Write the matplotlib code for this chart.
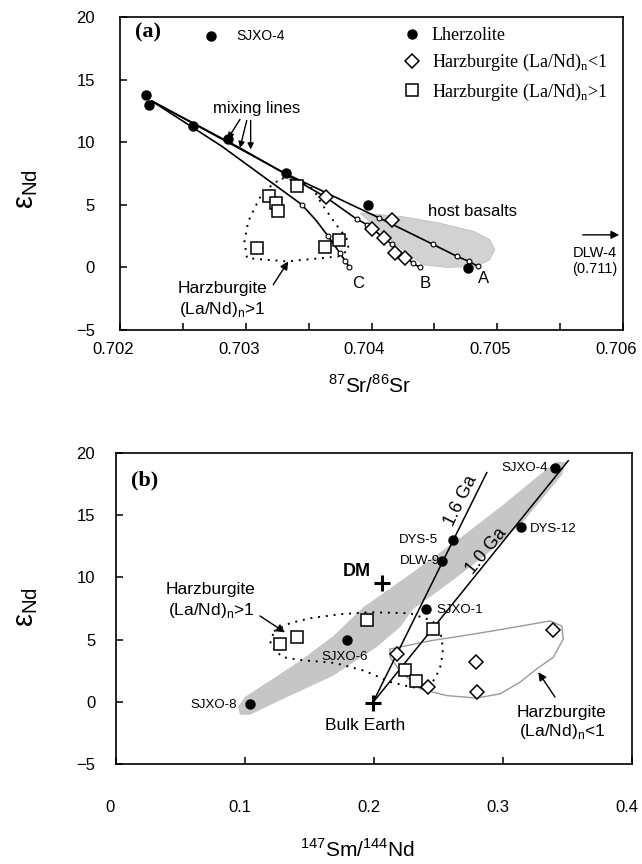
import matplotlib.pyplot as plt
import matplotlib.transforms as mtransforms
import numpy as np

plt.rcParams['font.family'] = ['Liberation Sans', 'DejaVu Sans']
plt.rcParams['axes.linewidth'] = 1.2

# ---------------- (a) eNd vs 87Sr/86Sr ----------------
lherz_sr = [0.702724, 0.702207, 0.702233, 0.702578, 0.702856, 0.70332, 0.70397, 0.70477]
lherz_nd = [18.48, 13.76, 12.96, 11.28, 10.26, 7.52, 5.02, -0.06]

harzlo_sr = [0.703638, 0.704161, 0.704004, 0.704102, 0.704189, 0.704266]
harzlo_nd = [5.6, 3.76, 3.1, 2.34, 1.14, 0.74]

harzhi_sr = [0.703405, 0.703187, 0.703241, 0.703254, 0.703087, 0.703633, 0.703744]
harzhi_nd = [6.48, 5.68, 5.14, 4.48, 1.54, 1.6, 2.16]

# mixing curves from the depleted end member
mixA_sr = [0.702254, 0.703312, 0.704068, 0.704489, 0.70468, 0.704775, 0.704847]
mixA_nd = [13.28, 7.52, 3.92, 1.84, 0.88, 0.48, 0.08]
mixB_sr = [0.702254, 0.702954, 0.703638, 0.703885, 0.703964, 0.704163, 0.70433, 0.704386]
mixB_nd = [13.28, 9.54, 5.6, 3.84, 3.42, 1.84, 0.32, 0.0]
mixC_sr = [0.702254, 0.702809, 0.703445, 0.703559, 0.703656, 0.703749, 0.703789, 0.703823]
mixC_nd = [13.28, 9.68, 5.02, 3.76, 2.48, 1.14, 0.54, 0.02]

# tick marks along the mixing curves
tickA_sr = [0.70406, 0.704489, 0.70468, 0.704775, 0.704847]
tickA_nd = [3.92, 1.84, 0.88, 0.48, 0.08]
tickB_sr = [0.703885, 0.703964, 0.704163, 0.70433, 0.704386]
tickB_nd = [3.84, 3.42, 1.84, 0.32, 0.0]
tickC_sr = [0.703445, 0.703656, 0.703749, 0.703789, 0.703823]
tickC_nd = [5.02, 2.48, 1.14, 0.54, 0.02]

basalt_sr = [0.70391, 0.70423, 0.70454, 0.70481, 0.70494, 0.70498, 0.70494,
             0.70484, 0.70460, 0.70441, 0.70423, 0.70404]
basalt_nd = [4.34, 4.08, 3.54, 2.88, 2.22, 1.42, 0.62, 0.08, 0.0, 0.22, 1.54, 3.14]

fieldhi_sr = [0.703286, 0.70343, 0.70354, 0.70360, 0.70370, 0.70380, 0.70382,
              0.70374, 0.70333, 0.70301, 0.70299, 0.70302, 0.70311, 0.70321]
fieldhi_nd = [7.10, 6.94, 6.22, 5.14, 3.68, 2.34, 1.42, 0.88, 0.48, 0.74, 2.08,
              3.68, 5.54, 6.62]

xticks_a = [0.702, 0.703, 0.704, 0.705, 0.706]
yticks = [-5, 0, 5, 10, 15, 20]

# ---------------- (b) eNd vs 147Sm/144Nd ----------------
lherz_sm = [0.3403, 0.3137, 0.2610, 0.2527, 0.2403, 0.1793, 0.1039]
lherz_ndb = [18.78, 14.02, 13.04, 11.3, 7.5, 4.98, -0.16]
lherz_names = ['SJXO-4', 'DYS-12', 'DYS-5', 'DLW-9', 'SJXO-1', 'SJXO-6', 'SJXO-8']

harzhi_sm = [0.1401, 0.1271, 0.1943, 0.246, 0.224, 0.2326]
harzhi_ndb = [5.18, 4.64, 6.58, 5.84, 2.58, 1.7]

harzlo_sm = [0.2176, 0.2416, 0.2791, 0.2801, 0.339]
harzlo_ndb = [3.84, 1.18, 3.18, 0.82, 5.78]

dm_sm, dm_nd = 0.206, 9.58
chur_sm, chur_nd = 0.199, -0.08

iso16_sm = [chur_sm, 0.2874]
iso16_nd = [chur_nd, 18.42]
iso10_sm = [chur_sm, 0.3506]
iso10_nd = [chur_nd, 19.38]

band_sm = [0.0946, 0.1000, 0.1168, 0.1426, 0.1684, 0.1917, 0.2279, 0.2692, 0.3002,
           0.3312, 0.3416, 0.3488, 0.3457, 0.3157, 0.2899, 0.2589, 0.2302, 0.2202,
           0.2021, 0.1684, 0.1297, 0.1039, 0.0961]
band_nd = [-0.40, 0.40, 1.52, 3.28, 5.28, 7.60, 10.24, 13.36, 15.84, 18.48, 19.28,
           19.28, 18.24, 14.48, 12.08, 9.60, 7.44, 6.00, 4.40, 2.10, 0.24, -1.04, -1.04]

fieldhi_sm = [0.1225, 0.1349, 0.1504, 0.1736, 0.1969, 0.2279, 0.2457, 0.2519, 0.2535,
              0.2519, 0.2473, 0.2395, 0.2279, 0.2124, 0.1930, 0.1698, 0.1426, 0.1287,
              0.1194]
fieldhi_ndb = [5.68, 6.32, 6.72, 7.04, 7.20, 7.12, 6.48, 5.36, 4.24, 2.96, 1.84, 1.04,
               1.20, 1.60, 2.48, 3.12, 3.36, 3.60, 4.64]

fieldlo_sm = [0.2124, 0.2434, 0.2770, 0.3080, 0.3364, 0.3455, 0.3467, 0.3390, 0.3261,
              0.3132, 0.2977, 0.2796, 0.2564, 0.2357, 0.2202, 0.2124]
fieldlo_nd = [4.24, 4.90, 5.44, 5.98, 6.50, 6.10, 5.04, 3.58, 2.64, 1.58, 0.64, 0.30,
              0.50, 1.04, 2.48, 3.60]

xticks_b = [0, 0.1, 0.2, 0.3, 0.4]

sub_n = r'$_\mathregular{n}$'
arrow = dict(arrowstyle='-|>', color='k', lw=1.0, mutation_scale=12, shrinkA=0, shrinkB=0)

fig = plt.figure(figsize=(6.42, 8.64), dpi=100)
axa = fig.add_axes([120 / 642, 1 - 330 / 864, 503 / 642, 313 / 864])
axb = fig.add_axes([116 / 642, 1 - 764 / 864, 516 / 642, 311 / 864])


def shift_xticklabels(ax, dx_pts):
    offset = mtransforms.ScaledTranslation(dx_pts / 72, 0, fig.dpi_scale_trans)
    for lab in ax.get_xticklabels():
        lab.set_transform(lab.get_transform() + offset)


# ---- panel (a)
axa.fill(basalt_sr, basalt_nd, facecolor='#d2d2d2', edgecolor='#bdbdbd', lw=0.6, zorder=1)
axa.fill(fieldhi_sr, fieldhi_nd, facecolor='none', edgecolor='k', lw=1.4,
         ls=(0, (1, 3)), zorder=1)
for xs, ys in [(mixA_sr, mixA_nd), (mixB_sr, mixB_nd), (mixC_sr, mixC_nd)]:
    axa.plot(xs, ys, color='k', lw=1.2, zorder=2)
for xs, ys in [(tickA_sr, tickA_nd), (tickB_sr, tickB_nd), (tickC_sr, tickC_nd)]:
    axa.plot(xs, ys, 'o', ms=3.5, mfc='white', mec='k', mew=0.8, zorder=3)

h1, = axa.plot(lherz_sr, lherz_nd, 'o', ms=6.5, color='k', zorder=5)
h2, = axa.plot(harzlo_sr, harzlo_nd, 'D', ms=7, mfc='white', mec='k', mew=1.1, zorder=4)
h3, = axa.plot(harzhi_sr, harzhi_nd, 's', ms=8.5, mfc='white', mec='k', mew=1.1, zorder=4)

axa.legend([h1, h2, h3],
           ['Lherzolite', 'Harzburgite (La/Nd)' + sub_n + '<1',
            'Harzburgite (La/Nd)' + sub_n + '>1'],
           loc='upper left', bbox_to_anchor=(0.5626, 0.968), frameon=False,
           borderpad=0, borderaxespad=0, handlelength=1.0, handletextpad=0.6,
           labelspacing=0.45, numpoints=1,
           prop={'family': 'Liberation Serif', 'size': 13})

axa.text(0.03, 0.95, '(a)', transform=axa.transAxes, family='Liberation Serif',
         fontweight='bold', fontsize=16, va='center')
axa.text(0.702922, 18.48, 'SJXO-4', fontsize=10, va='center')
axa.text(0.703087, 12.7, 'mixing lines', fontsize=12, ha='center', va='center')
for tail, tip in [((0.702954, 11.82), (0.702856, 10.26)),
                  ((0.703008, 11.74), (0.702954, 9.54)),
                  ((0.703039, 11.74), (0.703039, 9.42))]:
    axa.annotate('', xy=tip, xytext=tail, arrowprops=dict(arrow, mutation_scale=9))
axa.text(0.704803, 4.48, 'host basalts', fontsize=12, ha='center', va='center')
axa.annotate('', xy=(0.70597, 2.6), xytext=(0.70568, 2.6), arrowprops=arrow)
axa.text(0.705777, 1.14, 'DLW-4', fontsize=10.5, ha='center', va='center')
axa.text(0.705777, -0.13, '(0.711)', fontsize=10.5, ha='center', va='center')
axa.text(0.704889, -0.86, 'A', fontsize=12, ha='center', va='center')
axa.text(0.704425, -1.26, 'B', fontsize=12, ha='center', va='center')
axa.text(0.703895, -1.26, 'C', fontsize=12, ha='center', va='center')
axa.text(0.702815, -1.65, 'Harzburgite', fontsize=12.5, ha='center', va='center')
axa.text(0.702815, -3.38, '(La/Nd)' + sub_n + '>1', fontsize=12.5, ha='center',
         va='center')
axa.annotate('', xy=(0.703338, 0.48), xytext=(0.703219, -1.38), arrowprops=arrow)

axa.set_xlim(0.702, 0.706)
axa.set_ylim(-5, 20)
axa.set_xticks(xticks_a)
axa.set_xticklabels([f'{v:.3f}' for v in xticks_a])
axa.set_xticks(np.arange(0.7025, 0.7060, 0.001), minor=True)
axa.set_yticks(yticks)
axa.tick_params(direction='in', length=5, width=1.1, labelsize=12)
axa.tick_params(axis='x', which='both', direction='in', length=5, width=1.1, pad=9)
axa.tick_params(axis='y', pad=18)
shift_xticklabels(axa, -5)
axa.set_xlabel(r'$^\mathregular{87}$Sr/$^\mathregular{86}$Sr', fontsize=15)
axa.xaxis.set_label_coords(0.497, -0.14)
axa.set_ylabel('ε' + r'$_\mathregular{Nd}$', fontsize=21)
axa.yaxis.set_label_coords(-0.159, 0.45)

# ---- panel (b)
axb.fill(band_sm, band_nd, facecolor='#c6c6c6', edgecolor='none', zorder=1)
axb.fill(fieldhi_sm, fieldhi_ndb, facecolor='none', edgecolor='k', lw=1.4,
         ls=(0, (1, 3)), zorder=2)
axb.fill(fieldlo_sm, fieldlo_nd, facecolor='none', edgecolor='#9a9a9a', lw=1.0, zorder=2)
axb.plot(iso16_sm, iso16_nd, color='k', lw=1.1, zorder=3)
axb.plot(iso10_sm, iso10_nd, color='k', lw=1.1, zorder=3)

axb.plot(lherz_sm, lherz_ndb, 'o', ms=6.5, color='k', zorder=5)
axb.plot(harzhi_sm, harzhi_ndb, 's', ms=8.5, mfc='white', mec='k', mew=1.1, zorder=4)
axb.plot(harzlo_sm, harzlo_ndb, 'D', ms=7, mfc='white', mec='k', mew=1.1, zorder=4)
axb.plot([dm_sm, chur_sm], [dm_nd, chur_nd], '+', ms=11, mew=2.2, color='k', zorder=5)

name_pos = {'SJXO-4': (0.3345, 18.78, 'right'), 'DYS-12': (0.3209, 13.86, 'left'),
            'DYS-5': (0.2498, 13.04, 'right'), 'DLW-9': (0.2512, 11.3, 'right'),
            'SJXO-1': (0.2486, 7.4, 'left'), 'SJXO-6': (0.1773, 3.6, 'center'),
            'SJXO-8': (0.0936, -0.24, 'right')}
for name in lherz_names:
    x, y, ha = name_pos[name]
    axb.text(x, y, name, fontsize=9.5, ha=ha, va='center', zorder=6)

axb.text(0.1866, 10.5, 'DM', fontsize=13, fontweight='bold', ha='center', va='center')
axb.text(0.1928, -1.9, 'Bulk Earth', fontsize=12.5, ha='center', va='center')

axb.set_xlim(0, 0.4)
axb.set_ylim(-5, 20)
fig.canvas.draw()


def line_angle(ax, xs, ys):
    p = ax.transData.transform(np.column_stack([xs, ys]))
    return np.degrees(np.arctan2(p[1, 1] - p[0, 1], p[1, 0] - p[0, 0]))


axb.text(0.2673, 16.16, '1.6 Ga', fontsize=13, ha='center', va='center',
         rotation=line_angle(axb, iso16_sm, iso16_nd), rotation_mode='anchor')
axb.text(0.2874, 12.1, '1.0 Ga', fontsize=13, ha='center', va='center',
         rotation=line_angle(axb, iso10_sm, iso10_nd), rotation_mode='anchor')

axb.text(0.03, 0.913, '(b)', transform=axb.transAxes, family='Liberation Serif',
         fontweight='bold', fontsize=16, va='center')
axb.text(0.0736, 9.04, 'Harzburgite', fontsize=12.5, ha='center', va='center')
axb.text(0.0736, 7.3, '(La/Nd)' + sub_n + '>1', fontsize=12.5, ha='center', va='center')
axb.annotate('', xy=(0.131, 5.58), xytext=(0.1116, 6.9), arrowprops=arrow)
axb.text(0.3457, -0.82, 'Harzburgite', fontsize=12.5, ha='center', va='center')
axb.text(0.3457, -2.42, '(La/Nd)' + sub_n + '<1', fontsize=12.5, ha='center', va='center')
axb.annotate('', xy=(0.3274, 2.38), xytext=(0.3403, 0.38), arrowprops=arrow)

axb.set_xticks(xticks_b)
axb.set_xticklabels(['0' if v == 0 else f'{v:.1f}' for v in xticks_b])
axb.set_yticks(yticks)
axb.tick_params(direction='in', length=5, width=1.1, labelsize=12)
axb.tick_params(axis='x', pad=26)
axb.tick_params(axis='y', pad=15)
shift_xticklabels(axb, -4)
axb.set_xlabel(r'$^\mathregular{147}$Sm/$^\mathregular{144}$Nd', fontsize=15)
axb.xaxis.set_label_coords(0.467, -0.238)
axb.set_ylabel('ε' + r'$_\mathregular{Nd}$', fontsize=21)
axb.yaxis.set_label_coords(-0.147, 0.505)

fig.savefig('out.png', dpi=100)
